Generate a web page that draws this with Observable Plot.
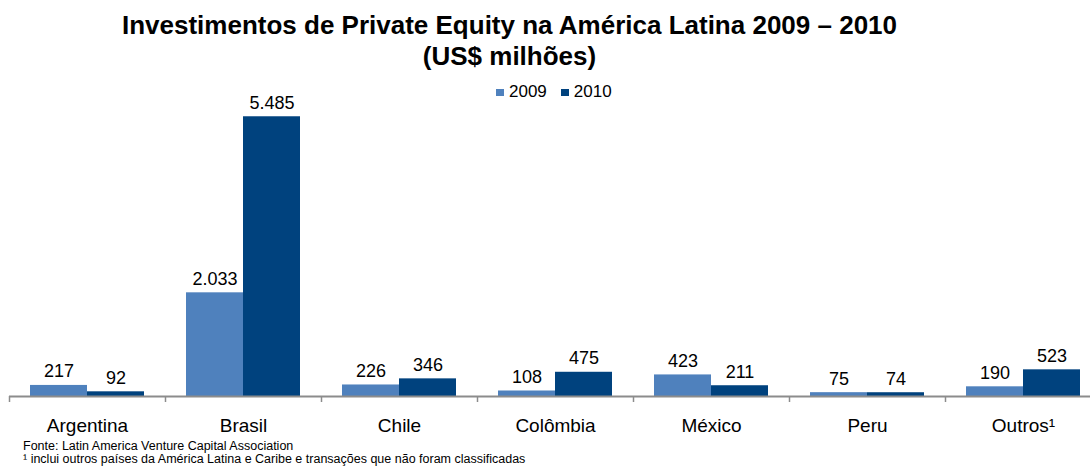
<!DOCTYPE html>
<html>
<head>
<meta charset="utf-8">
<script src="https://cdn.jsdelivr.net/npm/d3@7"></script>
<script src="https://cdn.jsdelivr.net/npm/@observablehq/plot@0.6"></script>
<style>
  html, body { margin: 0; padding: 0; background: #fff; }
  #wrap { position: relative; width: 1090px; height: 468px; overflow: hidden; font-family: "Liberation Sans", Arial, sans-serif; color: #000; }
  #title { position: absolute; left: 0; width: 1019px; top: 10px; text-align: center; font-weight: bold; font-size: 26px; line-height: 31px; white-space: nowrap; }
  #legend { position: absolute; top: 82px; left: 496px; font-size: 17px; display: flex; align-items: center; white-space: nowrap; }
  #legend .sw { display: inline-block; width: 8px; height: 7px; margin-right: 5px; }
  #legend .item { display: inline-flex; align-items: center; margin-right: 14px; }
  #chart { position: absolute; left: 0; top: 80px; }
  #chart svg [aria-label^="x-axis"] text { font-size: 19px; }
  #notes { position: absolute; left: 23px; top: 440px; font-size: 12.5px; line-height: 13px; white-space: nowrap; }
</style>
</head>
<body>
<div id="wrap">
  <div id="title">Investimentos de Private Equity na América Latina 2009 – 2010<br>(US$ milhões)</div>
  <div id="legend"></div>
  <div id="chart"></div>
  <div id="notes">Fonte: Latin America Venture Capital Association<br>¹ inclui outros países da América Latina e Caribe e transações que não foram classificadas</div>
</div>
<script>
const countries = ["Argentina", "Brasil", "Chile", "Colômbia", "México", "Peru", "Outros¹"];
const years = ["2009", "2010"];
const values2009 = [217, 2033, 226, 108, 423, 75, 190];
const values2010 = [92, 5485, 346, 475, 211, 74, 523];
const colors = ["#4F81BD", "#00427E"];

const rows = countries.flatMap((c, i) => [
  {country: c, year: "2009", value: values2009[i]},
  {country: c, year: "2010", value: values2010[i]}
]);
const r2009 = rows.filter(d => d.year === "2009");
const r2010 = rows.filter(d => d.year === "2010");

const fmt = d3.formatLocale({decimal: ",", thousands: ".", grouping: [3], currency: ["R$", ""]}).format(",d");

const legend = document.getElementById("legend");
years.forEach((y, i) => {
  const it = document.createElement("span");
  it.className = "item";
  it.innerHTML = `<span class="sw" style="background:${colors[i]}"></span>${y}`;
  legend.appendChild(it);
});

const chart = Plot.plot({
  width: 1090,
  height: 360,
  marginLeft: 9,
  marginRight: 0,
  marginTop: 10,
  marginBottom: 44,
  style: {fontFamily: "Liberation Sans, Arial, sans-serif", fontSize: "18px", color: "#000", background: "transparent"},
  x: {domain: countries, range: [9, 1101], padding: 0, tickSize: 0, tickPadding: 22, label: null},
  y: {domain: [0, 6000], axis: null},
  color: {domain: years, range: colors},
  marks: [
    Plot.barY(r2009, {x: "country", y: "value", fill: colors[0], insetLeft: 21, insetRight: 78}),
    Plot.barY(r2010, {x: "country", y: "value", fill: colors[1], insetLeft: 78, insetRight: 21}),
    Plot.text(r2009, {x: "country", y: "value", text: d => fmt(d.value), dx: -28.5, dy: -8, lineAnchor: "bottom", fill: "#000"}),
    Plot.text(r2010, {x: "country", y: "value", text: d => fmt(d.value), dx: 28.5, dy: -8, lineAnchor: "bottom", fill: "#000"}),
    Plot.ruleY([0], {stroke: "#8C8C8C", strokeWidth: 2}),
    Plot.ruleX(countries, {x: d => d, dx: -78, y1: 0, y2: 0, insetBottom: -6, stroke: "#8C8C8C", strokeWidth: 1.5})
  ]
});
document.getElementById("chart").appendChild(chart);
</script>
</body>
</html>
